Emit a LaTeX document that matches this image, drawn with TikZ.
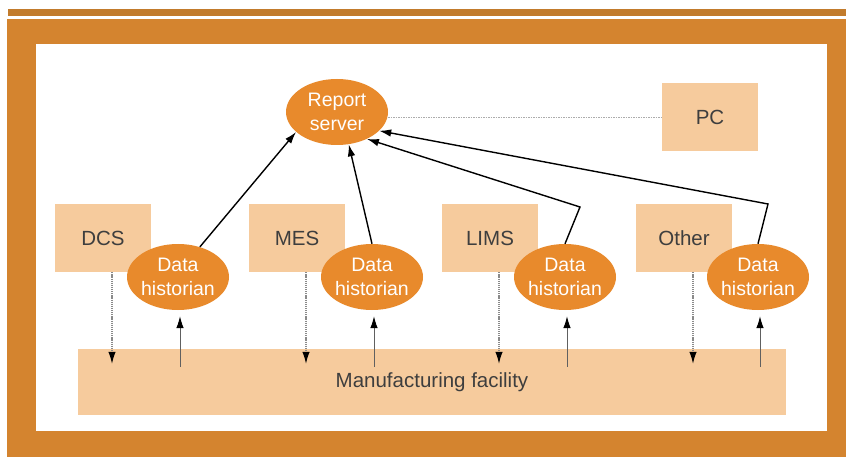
\documentclass[tikz,border=0pt]{standalone}
\usepackage{fontspec}
\setmainfont{Liberation Sans}
\usetikzlibrary{shapes.geometric,arrows.meta,calc}
\definecolor{framec}{HTML}{D4842F}
\definecolor{barc}{HTML}{C27B2C}
\definecolor{boxc}{HTML}{F6CB9D}
\definecolor{ellc}{HTML}{E88A2C}
\definecolor{txtc}{HTML}{3E3E3E}
\definecolor{linec}{HTML}{8A8A8A}
\begin{document}
\begin{tikzpicture}[x=1pt,y=-1pt,
  sysbox/.style={fill=boxc, minimum width=96pt, minimum height=68pt, inner sep=0pt,
    text=txtc, font=\fontsize{20.5}{24}\selectfont},
  hist/.style={ellipse, fill=ellc, minimum width=102pt, minimum height=66pt,
    inner xsep=-6pt, inner ysep=-4pt,
    text=white, align=center, font=\fontsize{19.5}{23.5}\selectfont},
  feed/.style={draw=black, line width=1.4pt, -{Latex[length=12pt,width=7.5pt]}},
  downarr/.style={draw=linec, line width=1.3pt, dash pattern=on 1.2pt off 0.9pt,
    -{Latex[length=12pt,width=7.5pt,color=black]}},
  uparr/.style={draw=gray!75!black, line width=0.9pt,
    -{Latex[length=12pt,width=7.5pt,color=black]}},
  link/.style={draw=gray!65, line width=1.4pt, dash pattern=on 1.5pt off 1pt}
]
\useasboundingbox (0,0) rectangle (846,457);
\fill[white] (0,0) rectangle (846,457);
% frame
\fill[barc] (8,9) rectangle (846,16.5);
\fill[framec] (7,19) rectangle (846,457);
\fill[white] (36,44) rectangle (827,431);

% facility
\node[sysbox, minimum width=708pt, minimum height=66pt] (mf) at (432,382) {Manufacturing facility};

% systems
\node[sysbox] (dcs) at (103,238) {DCS};
\node[sysbox] (mes) at (297,238) {MES};
\node[sysbox] (lims) at (490,238) {LIMS};
\node[sysbox] (oth) at (684,238) {Other};

% historians
\node[hist] (h1) at (178,277) {Data\\historian};
\node[hist] (h2) at (372,277) {Data\\historian};
\node[hist] (h3) at (565,277) {Data\\historian};
\node[hist] (h4) at (758,277) {Data\\historian};

% report server and PC
\node[hist] (srv) at (337,112) {Report\\server};
\node[sysbox] (pc) at (710,117.5) {PC};
\draw[link] (srv.east |- pc.west) -- (pc.west);

% historians to server
\coordinate (b3) at (580,207);
\coordinate (b4) at (768,204);
\draw[feed] (h1.54) -- (srv.-154);
\draw[feed] (h2.north) -- (srv.-70);
\draw[feed] (h3.north) -- (b3) -- (srv.-42);
\draw[feed] (h4.north) -- (b4) -- (srv.-24);

% systems to facility
\foreach \s in {dcs,mes,lims,oth}{
  \draw[downarr] ([xshift=9pt]\s.south) -- ([xshift=9pt,yshift=-15pt]\s.south |- mf.north);
}
% facility to historians
\foreach \h in {h1,h2,h3,h4}{
  \draw[uparr] ([xshift=2pt,yshift=-18pt]\h.south |- mf.north) -- ([xshift=2pt,yshift=-6pt]\h.south);
}
\end{tikzpicture}
\end{document}
